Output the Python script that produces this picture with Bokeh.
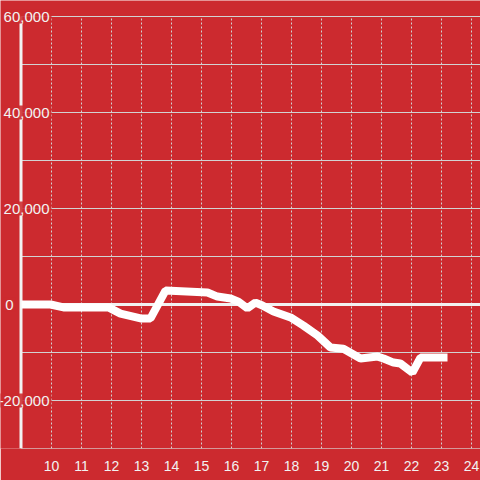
from bokeh.plotting import figure
from bokeh.models import Range1d, FixedTicker
from bokeh.embed import file_html
from bokeh.resources import INLINE
from bokeh.core.properties import value

# ---- data ----
hours = [9.0, 9.97, 10.4, 11.9, 12.3, 12.97, 13.3, 13.8, 15.2, 15.53, 15.97,
         16.23, 16.53, 16.8, 17.03, 17.4, 17.97, 18.4, 18.87, 19.3, 19.73,
         20.3, 20.87, 21.07, 21.4, 21.63, 22.03, 22.3, 23.2]
values = [0, 0, -600, -600, -1900, -2900, -2900, 2900, 2500, 1650, 1250,
          600, -800, 400, -200, -1450, -2700, -4400, -6450, -8950, -9200,
          -11250, -10850, -11250, -12100, -12300, -14200, -11050, -11050]
x_ticks = list(range(10, 25))
y_grid_values = list(range(-30000, 60001, 10000))
y_label_values = [-20000, 0, 20000, 40000, 60000]
y_label_texts = ["-20,000", "0", "20,000", "40,000", "60,000"]

RED = "#cc2a2f"
LIGHT = "#f2f2f2"
GRID = "#d2d2d2"

W, H = 480, 480
bottom = 32
px_x = 30.0                      # pixels per hour
y_min, y_max = -30000, 60000
px_y = 432 / (y_max - y_min)     # pixels per unit
x_start = 10 - 51 / px_x
x_end = x_start + W / px_x
y_top = y_max + 16 / px_y
axis_x = x_start + 20.5 / px_x

p = figure(width=W, height=H, output_backend="svg", toolbar_location=None,
           x_range=Range1d(x_start, x_end), y_range=Range1d(y_min, y_top),
           min_border_left=0, min_border_right=0, min_border_top=0,
           min_border_bottom=bottom)
p.background_fill_color = RED
p.border_fill_color = RED
p.outline_line_color = None
p.xgrid.visible = False
p.ygrid.visible = False

p.yaxis.visible = False
ax = p.xaxis[0]
ax.ticker = FixedTicker(ticks=x_ticks)
ax.axis_line_color = None
ax.major_tick_line_color = None
ax.minor_tick_line_color = None
ax.major_label_text_color = LIGHT
ax.major_label_text_font = "Liberation Sans"
ax.major_label_text_font_size = "14px"
ax.major_label_standoff = 6

# horizontal grid lines
p.segment(x0=[axis_x] * len(y_grid_values), y0=y_grid_values,
          x1=[x_end] * len(y_grid_values), y1=y_grid_values,
          line_color=GRID, line_width=1)
# vertical dotted grid lines
p.segment(x0=x_ticks, y0=[y_min] * len(x_ticks), x1=x_ticks,
          y1=[y_max] * len(x_ticks), line_color=GRID, line_width=1,
          line_dash="2 2")
# y axis line
p.segment(x0=[axis_x], y0=[y_min], x1=[axis_x], y1=[y_max],
          line_color=LIGHT, line_width=3)
# zero line
p.segment(x0=[axis_x + 1 / px_x], y0=[0], x1=[x_end], y1=[0],
          line_color=LIGHT, line_width=3)

p.line(hours, values, line_color="white", line_width=8)

offsets = [51 if v != 0 else 15 for v in y_label_values]
p.text(x=[x_start] * len(y_label_values), y=y_label_values, text=y_label_texts,
       x_offset=offsets, text_align="right", text_baseline="middle",
       text_font=value("Liberation Sans"), text_font_size="15px",
       text_color=LIGHT, background_fill_color=RED,
       background_fill_alpha=0.88, padding=2)

html = file_html(p, INLINE)
html = html.replace("<body>", '<body style="margin:0;background:%s">' % RED, 1)
open("out.html", "w").write(html)
